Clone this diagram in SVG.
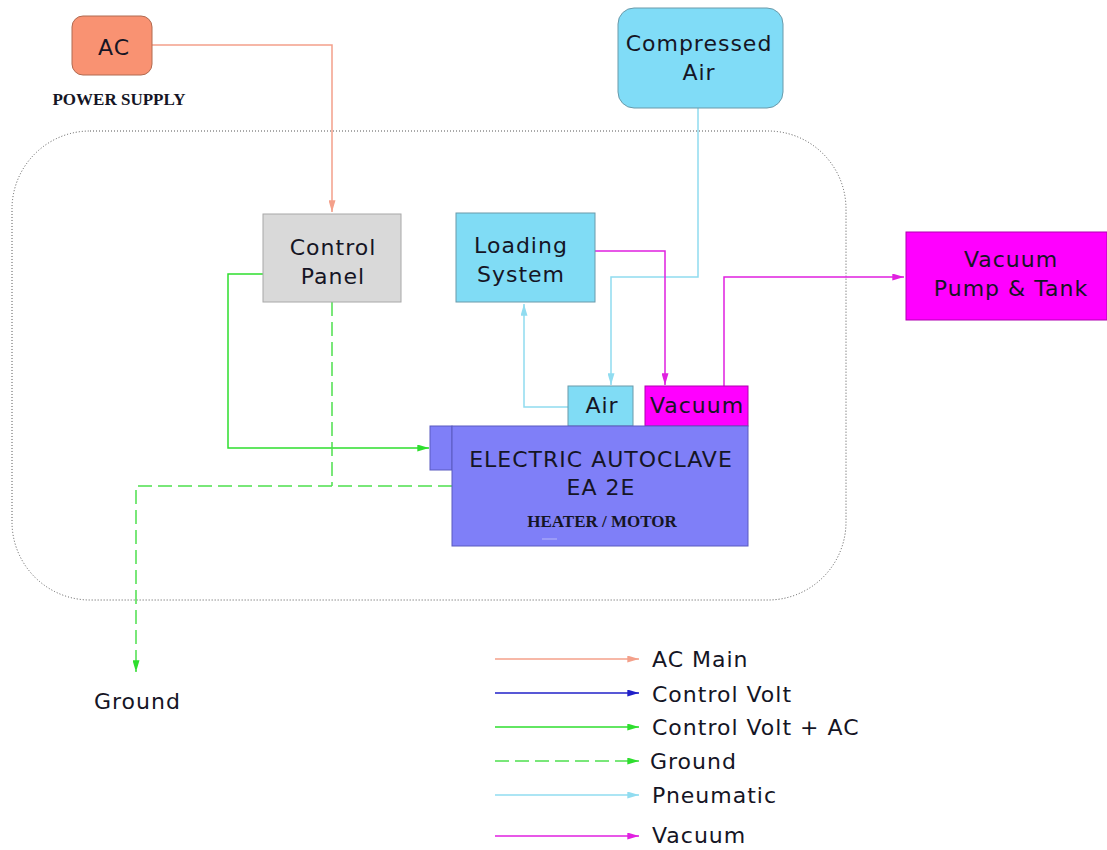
<svg xmlns="http://www.w3.org/2000/svg" width="1107" height="850" viewBox="0 0 1107 850">
<style>
.t{font-family:"DejaVu Sans",Verdana,sans-serif;font-size:22px;letter-spacing:1px;fill:#151525;text-anchor:middle}
.b{font-family:"Liberation Serif","Times New Roman",serif;font-weight:bold;font-size:17px;fill:#151525;text-anchor:middle}
.lg{font-family:"DejaVu Sans",Verdana,sans-serif;font-size:22px;letter-spacing:1px;fill:#151525}
.ac{stroke:#f4a08a;stroke-width:1.5;fill:none}
.cv{stroke:#2020c8;stroke-width:1.5;fill:none}
.gr{stroke:#2ede2e;stroke-width:1.5;fill:none}
.gd{stroke:#4ee04e;stroke-width:1.5;fill:none;stroke-dasharray:14 6}
.pn{stroke:#90dcf0;stroke-width:1.5;fill:none}
.va{stroke:#e020e0;stroke-width:1.5;fill:none}
</style>
<defs>
<marker id="mAc" viewBox="0 0 10 6" refX="10" refY="3" markerWidth="12" markerHeight="7" markerUnits="userSpaceOnUse" orient="auto"><path d="M0,0L10,3L0,6z" fill="#f4a08a"/></marker>
<marker id="mCv" viewBox="0 0 10 6" refX="10" refY="3" markerWidth="12" markerHeight="7" markerUnits="userSpaceOnUse" orient="auto"><path d="M0,0L10,3L0,6z" fill="#2020c8"/></marker>
<marker id="mGr" viewBox="0 0 10 6" refX="10" refY="3" markerWidth="12" markerHeight="7" markerUnits="userSpaceOnUse" orient="auto"><path d="M0,0L10,3L0,6z" fill="#2ede2e"/></marker>
<marker id="mGd" viewBox="0 0 10 6" refX="10" refY="3" markerWidth="12" markerHeight="7" markerUnits="userSpaceOnUse" orient="auto"><path d="M0,0L10,3L0,6z" fill="#2ede2e"/></marker>
<marker id="mPn" viewBox="0 0 10 6" refX="10" refY="3" markerWidth="12" markerHeight="7" markerUnits="userSpaceOnUse" orient="auto"><path d="M0,0L10,3L0,6z" fill="#90dcf0"/></marker>
<marker id="mVa" viewBox="0 0 10 6" refX="10" refY="3" markerWidth="12" markerHeight="7" markerUnits="userSpaceOnUse" orient="auto"><path d="M0,0L10,3L0,6z" fill="#e020e0"/></marker>
</defs>
<rect width="1107" height="850" fill="#fff"/>
<rect id="boundary" x="12" y="131" width="834" height="469" rx="78" ry="78" fill="none" stroke="#555" stroke-width="1" stroke-dasharray="1 2"/>

<g id="connectors">
<path class="ac" d="M152,45H332V212" marker-end="url(#mAc)"/>
<path class="gr" d="M263,274H228V448H429" marker-end="url(#mGr)"/>
<path class="gd" d="M332,302V486"/>
<path class="gd" d="M452,486H136V672" marker-end="url(#mGd)"/>
<path class="pn" d="M698,108V277H611V385" marker-end="url(#mPn)"/>
<path class="pn" d="M568,407H524V304" marker-end="url(#mPn)"/>
<path class="va" d="M595,251H665V385" marker-end="url(#mVa)"/>
<path class="va" d="M724,386V277H904" marker-end="url(#mVa)"/>
</g>

<g id="ac">
<rect x="72" y="16" width="80" height="59" rx="11" fill="#f99272" stroke="#b06a50" stroke-width="1"/>
<text class="t" x="114" y="55" font-size="25">AC</text>
<text class="b" x="119" y="105">POWER SUPPLY</text>
</g>

<g id="compressed-air">
<rect x="618" y="8" width="165" height="100" rx="16" fill="#80dcf7" stroke="#6a9aaa" stroke-width="1"/>
<text class="t" x="699" y="51">Compressed</text>
<text class="t" x="699" y="80">Air</text>
</g>

<g id="control-panel">
<rect x="263" y="214" width="138" height="88" fill="#d9d9d9" stroke="#a8a8a8" stroke-width="1"/>
<text class="t" x="333" y="255">Control</text>
<text class="t" x="333" y="284">Panel</text>
</g>

<g id="loading-system">
<rect x="456" y="213" width="139" height="89" fill="#80dcf5" stroke="#6a9aaa" stroke-width="1"/>
<text class="t" x="521" y="253">Loading</text>
<text class="t" x="521" y="282">System</text>
</g>

<g id="air">
<rect x="568" y="386" width="65" height="40" fill="#80dcf5" stroke="#6a9aaa" stroke-width="1"/>
<text class="t" x="602" y="413">Air</text>
</g>

<g id="vacuum">
<rect x="645" y="386" width="103" height="40" fill="#ff00ff" stroke="#b000b0" stroke-width="1"/>
<text class="t" x="697" y="413">Vacuum</text>
</g>

<g id="vacuum-pump">
<rect x="906" y="232" width="201" height="88" fill="#ff00ff" stroke="#b000b0" stroke-width="1"/>
<text class="t" x="1011" y="267">Vacuum</text>
<text class="t" x="1011" y="296">Pump &amp; Tank</text>
</g>

<g id="autoclave">
<rect x="430" y="426" width="22" height="44" fill="#7f7ff8" stroke="#5a5ac0" stroke-width="1"/>
<rect x="452" y="426" width="296" height="120" fill="#7f7ff8" stroke="#5a5ac0" stroke-width="1"/>
<text class="t" x="601" y="467">ELECTRIC AUTOCLAVE</text>
<text class="t" x="601" y="495">EA 2E</text>
<text class="b" x="602" y="527">HEATER / MOTOR</text>
<line x1="542" y1="539" x2="557" y2="539" stroke="#b8b8f8" stroke-width="1"/>
</g>

<g id="ground">
<text class="lg" x="94" y="709">Ground</text>
</g>

<g id="legend">
<line class="ac" x1="495" y1="659" x2="639" y2="659" marker-end="url(#mAc)"/>
<text class="lg" x="652" y="667">AC Main</text>
<line class="cv" x1="495" y1="693" x2="639" y2="693" marker-end="url(#mCv)"/>
<text class="lg" x="652" y="702">Control Volt</text>
<line class="gr" x1="495" y1="727" x2="639" y2="727" marker-end="url(#mGr)"/>
<text class="lg" x="652" y="735">Control Volt + AC</text>
<line class="gd" x1="495" y1="761" x2="639" y2="761" marker-end="url(#mGd)"/>
<text class="lg" x="650" y="769">Ground</text>
<line class="pn" x1="495" y1="795" x2="639" y2="795" marker-end="url(#mPn)"/>
<text class="lg" x="652" y="803">Pneumatic</text>
<line class="va" x1="495" y1="836" x2="639" y2="836" marker-end="url(#mVa)"/>
<text class="lg" x="652" y="843">Vacuum</text>
</g>
</svg>
